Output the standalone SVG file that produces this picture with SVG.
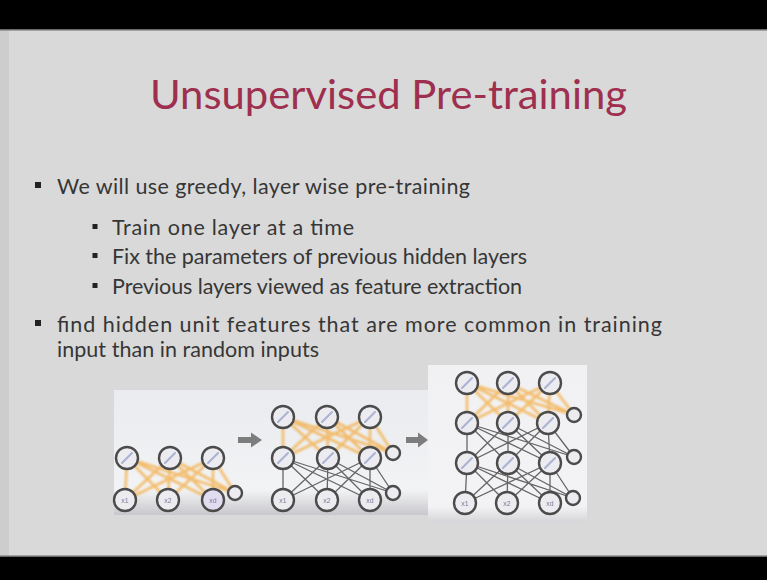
<svg xmlns="http://www.w3.org/2000/svg" width="767" height="580" viewBox="0 0 767 580">
  <defs>
    <linearGradient id="stripFill" x1="0" y1="0" x2="0" y2="1">
      <stop offset="0" stop-color="#e9ebee"/>
      <stop offset="0.8" stop-color="#f2f3f5"/>
      <stop offset="1" stop-color="#c8c8cc"/>
    </linearGradient>
    <linearGradient id="panelFill" x1="0" y1="0" x2="0" y2="1">
      <stop offset="0" stop-color="#f1f1f3"/>
      <stop offset="0.9" stop-color="#f3f3f5"/>
      <stop offset="1" stop-color="#d6d6da"/>
    </linearGradient>
    <filter id="soft" x="-5%" y="-5%" width="110%" height="110%">
      <feGaussianBlur stdDeviation="0.7"/>
    </filter>
    <filter id="glow" x="-5%" y="-10%" width="110%" height="120%">
      <feGaussianBlur stdDeviation="1.3"/>
    </filter>
  </defs>
  <style>
    .title { font-family: Lato, "Open Sans", "Liberation Sans", sans-serif; font-size: 40px; fill: #9e2f4e; }
    .body { font-family: Lato, "Open Sans", "Liberation Sans", sans-serif; font-size: 21.5px; fill: #363636; }
    .mark { fill: #222222; }
    .unit { fill: #ebebf0; stroke: #4c4c4c; stroke-width: 2.4; }
    .slash { stroke: #aab2d2; stroke-width: 2; stroke-linecap: round; }
    .xin { font-family: "Liberation Sans", sans-serif; font-size: 7px; fill: #7c7c9a; text-anchor: middle; }
    .orange { fill: none; stroke: #f3a533; stroke-width: 2.6; stroke-opacity: 0.7; }
    .grey { fill: none; stroke: #666666; stroke-width: 1.3; }
    .arrow { fill: #7d7d7d; }
  </style>

  <!-- slide background and frame bars -->
  <rect x="0" y="0" width="767" height="580" fill="#d9d9d9"/>
  <rect x="0" y="0" width="9" height="580" fill="#cdcdcd"/>
  <rect x="0" y="0" width="767" height="29" fill="#000000"/>
  <rect x="0" y="29" width="767" height="1.5" fill="#6a6a6a"/>
  <rect x="0" y="557" width="767" height="23" fill="#000000"/>
  <rect x="0" y="555.5" width="767" height="1.5" fill="#6a6a6a"/>

  <!-- heading -->
  <text class="title" x="150" y="109" textLength="477" lengthAdjust="spacingAndGlyphs">Unsupervised Pre-training</text>

  <!-- bullet list -->
  <g id="bullets">
    <rect class="mark" x="35" y="182" width="6" height="6"/>
    <text class="body" x="57" y="194" textLength="413" lengthAdjust="spacing">We will use greedy, layer wise pre-training</text>
    <rect class="mark" x="92.5" y="224" width="5" height="5"/>
    <text class="body" x="112" y="235" textLength="242" lengthAdjust="spacing">Train one layer at a time</text>
    <rect class="mark" x="92.5" y="253" width="5" height="5"/>
    <text class="body" x="112" y="264" textLength="415" lengthAdjust="spacing">Fix the parameters of previous hidden layers</text>
    <rect class="mark" x="92.5" y="283" width="5" height="5"/>
    <text class="body" x="112" y="294" textLength="410" lengthAdjust="spacing">Previous layers viewed as feature extraction</text>
    <rect class="mark" x="35" y="320" width="6" height="6"/>
    <text class="body" x="57" y="332" textLength="605" lengthAdjust="spacing">find hidden unit features that are more common in training</text>
    <text class="body" x="57" y="357" textLength="262" lengthAdjust="spacing">input than in random inputs</text>
  </g>

  <!-- picture panels behind the three networks -->
  <rect x="114" y="390" width="316" height="125" fill="url(#stripFill)"/>
  <rect x="428" y="365" width="159" height="157" fill="url(#panelFill)"/>

  <!-- weights between layers -->
  <g id="connectors">
    <g filter="url(#glow)">
      <!-- net 1: inputs + bias to first hidden layer -->
      <path class="orange" d="M125,500L127,458M125,500L170,458M125,500L213,458M168,500L127,458M168,500L170,458M168,500L213,458M213,500L127,458M213,500L170,458M213,500L213,458M235,493L127,458M235,493L170,458M235,493L213,458"/>
      <!-- net 2: first hidden + bias to second hidden layer -->
      <path class="orange" d="M283,458L283,417M283,458L327,417M283,458L370,417M328,458L283,417M328,458L327,417M328,458L370,417M370,458L283,417M370,458L327,417M370,458L370,417M393,453L283,417M393,453L327,417M393,453L370,417"/>
      <!-- net 3: second hidden + bias to third hidden layer -->
      <path class="orange" d="M467,423L467,383M467,423L508,383M467,423L550,383M508,423L467,383M508,423L508,383M508,423L550,383M548,423L467,383M548,423L508,383M548,423L550,383M574,415L467,383M574,415L508,383M574,415L550,383"/>
    </g>
    <g filter="url(#soft)">
      <!-- net 2: inputs + bias to first hidden layer (fixed) -->
      <path class="grey" d="M283,500L283,458M283,500L328,458M283,500L370,458M327,500L283,458M327,500L328,458M327,500L370,458M370,500L283,458M370,500L328,458M370,500L370,458M393,493L283,458M393,493L328,458M393,493L370,458"/>
      <!-- net 3: lower fixed layers -->
      <path class="grey" d="M467,463L467,423M467,463L508,423M467,463L548,423M508,463L467,423M508,463L508,423M508,463L548,423M550,463L467,423M550,463L508,423M550,463L548,423M574,457L467,423M574,457L508,423M574,457L548,423"/>
      <path class="grey" d="M465,503L467,463M465,503L508,463M465,503L550,463M507,503L467,463M507,503L508,463M507,503L550,463M550,503L467,463M550,503L508,463M550,503L550,463M573,498L467,463M573,498L508,463M573,498L550,463"/>
    </g>
    <!-- step arrows -->
    <path id="step1" class="arrow" d="M238,437H251V432.5L262,440L251,447.5V443H238Z"/>
    <path id="step2" class="arrow" d="M406,437H418V432.5L428,440L418,447.5V443H406Z"/>
  </g>

  <!-- network 1 -->
  <g id="net1" filter="url(#soft)">
    <g id="n1-h1"><circle class="unit" cx="127" cy="458" r="11"/><line class="slash" x1="122" y1="463" x2="132" y2="453"/></g>
    <g id="n1-h2"><circle class="unit" cx="170" cy="458" r="11"/><line class="slash" x1="165" y1="463" x2="175" y2="453"/></g>
    <g id="n1-h3"><circle class="unit" cx="213" cy="458" r="11"/><line class="slash" x1="208" y1="463" x2="218" y2="453"/></g>
    <g id="n1-x1"><circle class="unit" cx="125" cy="500" r="11"/><text class="xin" x="125" y="502.5">x1</text></g>
    <g id="n1-x2"><circle class="unit" cx="168" cy="500" r="11"/><text class="xin" x="168" y="502.5">x2</text></g>
    <g id="n1-xd"><circle class="unit" cx="213" cy="500" r="11" style="fill:#e2dcf0"/><text class="xin" x="213" y="502.5">xd</text></g>
    <g id="n1-b"><circle class="unit" cx="235" cy="493" r="7"/></g>
  </g>

  <!-- network 2 -->
  <g id="net2" filter="url(#soft)">
    <g id="n2-h21"><circle class="unit" cx="283" cy="417" r="11"/><line class="slash" x1="278" y1="422" x2="288" y2="412"/></g>
    <g id="n2-h22"><circle class="unit" cx="327" cy="417" r="11"/><line class="slash" x1="322" y1="422" x2="332" y2="412"/></g>
    <g id="n2-h23"><circle class="unit" cx="370" cy="417" r="11"/><line class="slash" x1="365" y1="422" x2="375" y2="412"/></g>
    <g id="n2-h11"><circle class="unit" cx="283" cy="458" r="11"/><line class="slash" x1="278" y1="463" x2="288" y2="453"/></g>
    <g id="n2-h12"><circle class="unit" cx="328" cy="458" r="11"/><line class="slash" x1="323" y1="463" x2="333" y2="453"/></g>
    <g id="n2-h13"><circle class="unit" cx="370" cy="458" r="11"/><line class="slash" x1="365" y1="463" x2="375" y2="453"/></g>
    <g id="n2-x1"><circle class="unit" cx="283" cy="500" r="11"/><text class="xin" x="283" y="502.5">x1</text></g>
    <g id="n2-x2"><circle class="unit" cx="327" cy="500" r="11"/><text class="xin" x="327" y="502.5">x2</text></g>
    <g id="n2-xd"><circle class="unit" cx="370" cy="500" r="11"/><text class="xin" x="370" y="502.5">xd</text></g>
    <g id="n2-b1"><circle class="unit" cx="393" cy="453" r="7"/></g>
    <g id="n2-b0"><circle class="unit" cx="393" cy="493" r="7"/></g>
  </g>

  <!-- network 3 -->
  <g id="net3" filter="url(#soft)">
    <g id="n3-h31"><circle class="unit" cx="467" cy="383" r="11"/><line class="slash" x1="462" y1="388" x2="472" y2="378"/></g>
    <g id="n3-h32"><circle class="unit" cx="508" cy="383" r="11"/><line class="slash" x1="503" y1="388" x2="513" y2="378"/></g>
    <g id="n3-h33"><circle class="unit" cx="550" cy="383" r="11"/><line class="slash" x1="545" y1="388" x2="555" y2="378"/></g>
    <g id="n3-h21"><circle class="unit" cx="467" cy="423" r="11"/><line class="slash" x1="462" y1="428" x2="472" y2="418"/></g>
    <g id="n3-h22"><circle class="unit" cx="508" cy="423" r="11"/><line class="slash" x1="503" y1="428" x2="513" y2="418"/></g>
    <g id="n3-h23"><circle class="unit" cx="548" cy="423" r="11"/><line class="slash" x1="543" y1="428" x2="553" y2="418"/></g>
    <g id="n3-h11"><circle class="unit" cx="467" cy="463" r="11"/><line class="slash" x1="462" y1="468" x2="472" y2="458"/></g>
    <g id="n3-h12"><circle class="unit" cx="508" cy="463" r="11"/><line class="slash" x1="503" y1="468" x2="513" y2="458"/></g>
    <g id="n3-h13"><circle class="unit" cx="550" cy="463" r="11"/><line class="slash" x1="545" y1="468" x2="555" y2="458"/></g>
    <g id="n3-x1"><circle class="unit" cx="465" cy="503" r="11"/><text class="xin" x="465" y="505.5">x1</text></g>
    <g id="n3-x2"><circle class="unit" cx="507" cy="503" r="11"/><text class="xin" x="507" y="505.5">x2</text></g>
    <g id="n3-xd"><circle class="unit" cx="550" cy="503" r="11"/><text class="xin" x="550" y="505.5">xd</text></g>
    <g id="n3-b2"><circle class="unit" cx="574" cy="415" r="7"/></g>
    <g id="n3-b1"><circle class="unit" cx="574" cy="457" r="7"/></g>
    <g id="n3-b0"><circle class="unit" cx="573" cy="498" r="7"/></g>
  </g>
</svg>
